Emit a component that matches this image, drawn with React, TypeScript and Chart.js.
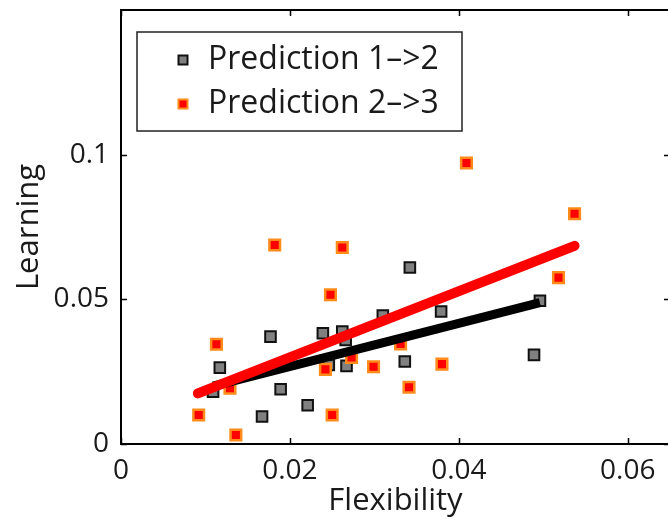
import React, { useEffect, useRef } from "react";
import { Chart, registerables } from "chart.js";

Chart.register(...registerables);

// ---- axes ----
const xTickValues = [0, 0.02, 0.04, 0.06];
const xTickLabels = ["0", "0.02", "0.04", "0.06"];
const yTickValues = [0, 0.05, 0.1];
const yTickLabels = ["0", "0.05", "0.1"];
const xTitle = "Flexibility";
const yTitle = "Learning";

// ---- series: Prediction 1->2 ----
const series12Label = "Prediction 1–>2";
const series12X = [0.0109, 0.0117, 0.0167, 0.0177, 0.0189, 0.0221, 0.0239, 0.0262, 0.0266, 0.0246, 0.0267, 0.0310, 0.0336, 0.0342, 0.0379, 0.0496, 0.0489];
const series12Y = [0.0181, 0.0264, 0.0095, 0.0371, 0.0189, 0.0134, 0.0383, 0.0389, 0.0360, 0.0273, 0.0270, 0.0444, 0.0285, 0.0610, 0.0458, 0.0495, 0.0308];

// ---- series: Prediction 2->3 ----
const series23Label = "Prediction 2–>3";
const series23X = [0.0092, 0.0113, 0.0129, 0.0136, 0.0182, 0.0242, 0.0248, 0.0250, 0.0262, 0.0273, 0.0299, 0.0331, 0.0341, 0.0380, 0.0409, 0.0518, 0.0537];
const series23Y = [0.0100, 0.0345, 0.0193, 0.0031, 0.0688, 0.0258, 0.0516, 0.0100, 0.0679, 0.0299, 0.0267, 0.0346, 0.0196, 0.0276, 0.0971, 0.0575, 0.0796];

// ---- fitted lines ----
const fit12X = [0.0109, 0.0496];
const fit12Y = [0.0200, 0.0489];
const fit23X = [0.0091, 0.0537];
const fit23Y = [0.0175, 0.0685];

const FONT = "'Open Sans', 'DejaVu Sans', sans-serif";
const TEXT = "#1a1a1a";

const toPts = (xs: number[], ys: number[]) => xs.map((x, i) => ({ x, y: ys[i] }));

const framePlugin = {
  id: "matlabFrame",
  afterDatasetsDraw(chart: any) {
    const { ctx, chartArea: a, scales } = chart;
    const xs = scales.x;
    const ys = scales.y;
    ctx.save();
    ctx.strokeStyle = "#000";
    ctx.lineWidth = 2;
    ctx.strokeRect(a.left, a.top, a.right - a.left, a.bottom - a.top);
    ctx.lineWidth = 1.5;
    ctx.beginPath();
    const tl = 6;
    for (const t of xs.ticks) {
      const px = Math.round(xs.getPixelForValue(t.value)) + 0.5;
      ctx.moveTo(px, a.bottom);
      ctx.lineTo(px, a.bottom - tl);
      ctx.moveTo(px, a.top);
      ctx.lineTo(px, a.top + tl);
    }
    for (const t of ys.ticks) {
      const py = Math.round(ys.getPixelForValue(t.value)) + 0.5;
      ctx.moveTo(a.left, py);
      ctx.lineTo(a.left + tl, py);
      ctx.moveTo(a.right, py);
      ctx.lineTo(a.right - tl, py);
    }
    ctx.stroke();

    // legend box inside the axes
    const items = chart.data.datasets.filter((d: any) => !d.showLine);
    const bx = 137, by = 32, bw = 325, bh = 99;
    ctx.fillStyle = "#fff";
    ctx.fillRect(bx, by, bw, bh);
    ctx.strokeStyle = "#222";
    ctx.lineWidth = 1.5;
    ctx.strokeRect(bx, by, bw, bh);
    const rowY = [60, 104];
    items.forEach((d: any, i: number) => {
      const cy = rowY[i];
      const cx = 183;
      const s = 9;
      ctx.fillStyle = d.pointBackgroundColor;
      ctx.fillRect(cx - s / 2, cy - s / 2, s, s);
      ctx.strokeStyle = d.pointBorderColor;
      ctx.lineWidth = 2;
      ctx.strokeRect(cx - s / 2, cy - s / 2, s, s);
      ctx.fillStyle = TEXT;
      ctx.font = `32px ${FONT}`;
      ctx.textBaseline = "middle";
      ctx.textAlign = "left";
      ctx.fillText(d.label, 208, cy);
    });
    ctx.restore();
  },
};

export default function App() {
  const ref = useRef<HTMLCanvasElement | null>(null);
  useEffect(() => {
    if (!ref.current) return;
    const chart = new Chart(ref.current, {
      type: "scatter",
      data: {
        datasets: [
          {
            label: "fit 2->3",
            data: toPts(fit23X, fit23Y),
            showLine: true,
            borderColor: "#ff0000",
            borderWidth: 10,
            borderCapStyle: "round",
            pointRadius: 0,
            order: 0,
          },
          {
            label: "fit 1->2",
            data: toPts(fit12X, fit12Y),
            showLine: true,
            borderColor: "#000000",
            borderWidth: 9,
            borderCapStyle: "butt",
            pointRadius: 0,
            order: 1,
          },
          {
            label: series12Label,
            data: toPts(series12X, series12Y),
            showLine: false,
            pointStyle: "rect",
            pointRadius: 7.5,
            pointBackgroundColor: "#808080",
            pointBorderColor: "#111111",
            pointBorderWidth: 2,
            order: 3,
          },
          {
            label: series23Label,
            data: toPts(series23X, series23Y),
            showLine: false,
            pointStyle: "rect",
            pointRadius: 7.5,
            pointBackgroundColor: "#ff0000",
            pointBorderColor: "#ff8c1a",
            pointBorderWidth: 2.5,
            order: 2,
          },
        ],
      } as any,
      options: {
        animation: false,
        responsive: false,
        devicePixelRatio: 1,
        layout: { padding: { top: 10, right: 8, left: 0, bottom: 0 } },
        plugins: { legend: { display: false }, tooltip: { enabled: false } },
        scales: {
          x: {
            type: "linear",
            min: 0,
            max: 0.065,
            grid: { display: false, drawTicks: false },
            border: { display: false },
            afterBuildTicks: (s: any) => {
              s.ticks = xTickValues.map((v) => ({ value: v }));
            },
            afterFit: (s: any) => {
              s.height = 77;
              s.paddingLeft = 0;
              s.paddingRight = 0;
            },
            ticks: {
              autoSkip: false,
              maxRotation: 0,
              padding: 10,
              color: TEXT,
              font: { family: FONT, size: 28 },
              callback: (v: any) => xTickLabels[xTickValues.indexOf(v)],
            },
            title: {
              display: true,
              text: xTitle,
              color: TEXT,
              font: { family: FONT, size: 31 },
              padding: { top: 0, bottom: 1 },
            },
          },
          y: {
            type: "linear",
            min: 0,
            max: 0.15,
            grid: { display: false, drawTicks: false },
            border: { display: false },
            afterBuildTicks: (s: any) => {
              s.ticks = yTickValues.map((v) => ({ value: v }));
            },
            afterFit: (s: any) => {
              s.width = 121;
              s.paddingTop = 0;
              s.paddingBottom = 0;
            },
            ticks: {
              autoSkip: false,
              padding: 12,
              color: TEXT,
              font: { family: FONT, size: 28 },
              callback: (v: any) => yTickLabels[yTickValues.indexOf(v)],
            },
            title: {
              display: true,
              text: yTitle,
              color: TEXT,
              font: { family: FONT, size: 31 },
              padding: { top: 11, bottom: 0 },
            },
          },
        },
      } as any,
      plugins: [framePlugin],
    });
    return () => chart.destroy();
  }, []);

  return (
    <div style={{ position: "absolute", left: 0, top: 0, width: 668, height: 521, overflow: "hidden", background: "#fff" }}>
      <canvas ref={ref} width={680} height={521} style={{ display: "block", width: 680, height: 521 }} />
    </div>
  );
}
